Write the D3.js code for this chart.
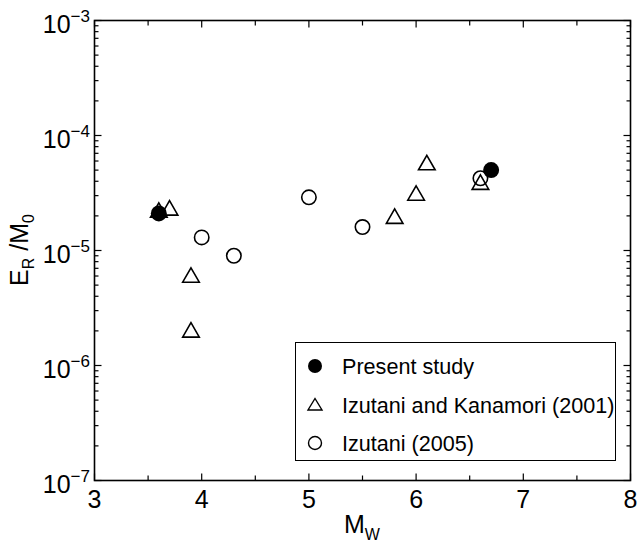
<!DOCTYPE html>
<html><head><meta charset="utf-8">
<script src="https://cdn.jsdelivr.net/npm/d3@7"></script>
<style>body{margin:0;background:#fff}svg{display:block}text{font-family:"Liberation Sans",Arial,Helvetica,sans-serif;fill:#000}</style>
</head><body>
<script>
// Data
const presentMw = [3.6, 6.7];
const presentEr = [2.1e-5, 5.0e-5];
const ikMw = [3.6, 3.7, 3.9, 3.9, 5.8, 6.0, 6.1, 6.6];
const ikEr = [2.2e-5, 2.3e-5, 6.0e-6, 2.0e-6, 1.95e-5, 3.1e-5, 5.7e-5, 3.85e-5];
const izMw = [4.0, 4.3, 5.0, 5.5, 6.6];
const izEr = [1.3e-5, 9.0e-6, 2.9e-5, 1.6e-5, 4.25e-5];
const xTicks = [3, 4, 5, 6, 7, 8];
const yExponents = [-7, -6, -5, -4, -3];
const legendLabels = ["Present study", "Izutani and Kanamori (2001)", "Izutani (2005)"];

const W = 637, H = 545;
const svg = d3.select("body").append("svg").attr("width", W).attr("height", H);
const x = d3.scaleLinear().domain([3, 8]).range([94.5, 630.5]);
const y = d3.scaleLog().domain([1e-7, 1e-3]).range([480.5, 20.5]);
const [x0, x1] = x.range(), [y0, y1] = [y.range()[1], y.range()[0]];

// ticks
const g = svg.append("g").attr("stroke", "#000").attr("stroke-width", 1.2);
const xMinor = d3.range(3.5, 8, 1);
function vt(v, len) {
  g.append("line").attr("x1", x(v)).attr("x2", x(v)).attr("y1", y1).attr("y2", y1 - len);
  g.append("line").attr("x1", x(v)).attr("x2", x(v)).attr("y1", y0).attr("y2", y0 + len);
}
xTicks.forEach(v => vt(v, 7));
xMinor.forEach(v => vt(v, 5));
function ht(v, len) {
  g.append("line").attr("y1", y(v)).attr("y2", y(v)).attr("x1", x0).attr("x2", x0 + len);
  g.append("line").attr("y1", y(v)).attr("y2", y(v)).attr("x1", x1).attr("x2", x1 - len);
}
yExponents.forEach(e => {
  ht(Math.pow(10, e), 7);
  if (e < -3) for (let k = 2; k <= 9; k++) ht(k * Math.pow(10, e), 4);
});
// frame
svg.append("rect").attr("x", x0).attr("y", y0).attr("width", x1 - x0).attr("height", y1 - y0)
  .attr("fill", "none").attr("stroke", "#000").attr("stroke-width", 1.6);

// x tick labels
svg.selectAll(".xt").data(xTicks).join("text").attr("class", "xt")
  .attr("x", d => x(d)).attr("y", 508).attr("text-anchor", "middle")
  .attr("font-size", 25).text(d => d);
// y tick labels
yExponents.forEach(e => {
  const t = svg.append("text").attr("x", 90).attr("y", y(Math.pow(10, e)) + 12)
    .attr("text-anchor", "end").attr("font-size", 25);
  t.append("tspan").text("10");
  t.append("tspan").attr("font-size", 17).attr("dy", -11).text("\u2212" + (-e));
});

// axis titles
const xt = svg.append("text").attr("x", 362).attr("y", 533).attr("text-anchor", "middle").attr("font-size", 25);
xt.append("tspan").text("M");
xt.append("tspan").attr("font-size", 16).attr("dy", 7).text("W");
const yt = svg.append("text").attr("transform", "translate(28,250) rotate(-90)").attr("text-anchor", "middle").attr("font-size", 25);
yt.append("tspan").text("E");
yt.append("tspan").attr("font-size", 16).attr("dy", 6).text("R");
yt.append("tspan").attr("dy", -6).text(" /M");
yt.append("tspan").attr("font-size", 16).attr("dy", 6).text("0");

// markers
const triPath = "M0,-8.2L8.3,6.2L-8.3,6.2Z";
svg.selectAll(".ik").data(ikMw.map((m, i) => [m, ikEr[i]])).join("path").attr("class", "ik")
  .attr("d", triPath).attr("transform", d => `translate(${x(d[0])},${y(d[1])})`)
  .attr("fill", "none").attr("stroke", "#000").attr("stroke-width", 1.6);
svg.selectAll(".iz").data(izMw.map((m, i) => [m, izEr[i]])).join("circle").attr("class", "iz")
  .attr("cx", d => x(d[0])).attr("cy", d => y(d[1])).attr("r", 7.2)
  .attr("fill", "none").attr("stroke", "#000").attr("stroke-width", 1.6);
svg.selectAll(".ps").data(presentMw.map((m, i) => [m, presentEr[i]])).join("circle").attr("class", "ps")
  .attr("cx", d => x(d[0])).attr("cy", d => y(d[1])).attr("r", 8).attr("fill", "#000");

// legend
const lg = svg.append("g");
lg.append("rect").attr("x", 295.5).attr("y", 342.5).attr("width", 320).attr("height", 118)
  .attr("fill", "#fff").attr("stroke", "#000").attr("stroke-width", 1);
const rows = [366, 405, 443];
lg.append("circle").attr("cx", 315).attr("cy", rows[0]).attr("r", 7).attr("fill", "#000");
lg.append("path").attr("d", "M0,-6.5L7,5L-7,5Z").attr("transform", `translate(315,${rows[1]})`)
  .attr("fill", "none").attr("stroke", "#000").attr("stroke-width", 1.4);
lg.append("circle").attr("cx", 315).attr("cy", rows[2]).attr("r", 6.5).attr("fill", "none")
  .attr("stroke", "#000").attr("stroke-width", 1.4);
legendLabels.forEach((l, i) => {
  lg.append("text").attr("x", 342).attr("y", rows[i] + 8).attr("font-size", 21.6).text(l);
});
</script>
</body></html>
